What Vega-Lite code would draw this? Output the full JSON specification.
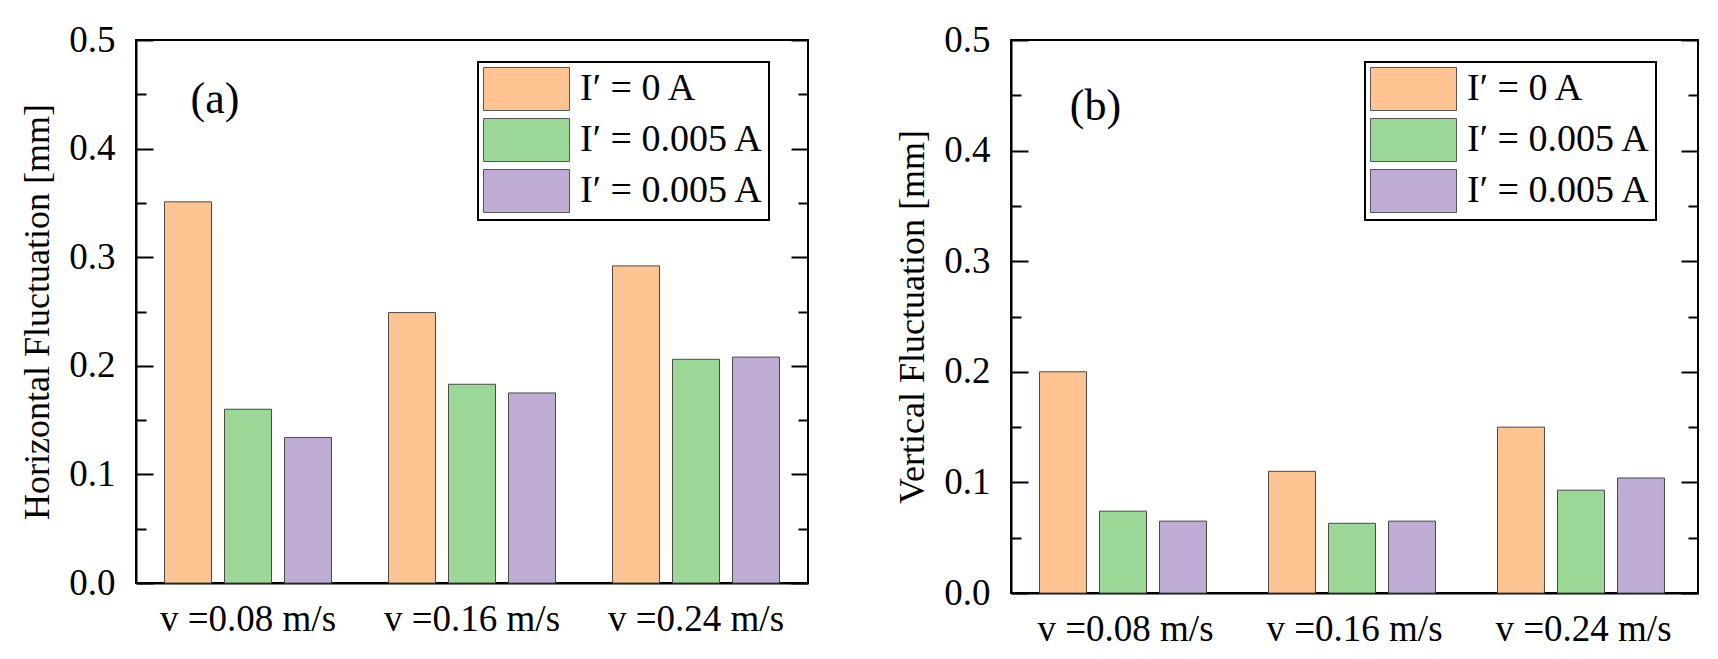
{
  "$schema": "https://vega.github.io/schema/vega-lite/v6.json",
  "background": "white",
  "padding": {"left": 18, "top": 20, "right": 10, "bottom": 10},
  "config": {
    "font": "Liberation Serif",
    "view": {"stroke": "black", "strokeWidth": 2},
    "axis": {
      "labelFont": "Liberation Serif",
      "titleFont": "Liberation Serif",
      "labelFontSize": 37,
      "titleFontSize": 36,
      "titleFontWeight": "normal",
      "labelColor": "black",
      "titleColor": "black",
      "domainColor": "black",
      "domainWidth": 2,
      "tickColor": "black",
      "tickWidth": 2,
      "grid": false
    },
    "legend": {
      "labelFont": "Liberation Serif",
      "labelFontSize": 38,
      "labelColor": "black",
      "labelLimit": 0,
      "labelOffset": 31.5,
      "strokeColor": "black",
      "strokeWidth": 2,
      "fillColor": "white",
      "padding": 5,
      "rowPadding": 3,
      "symbolType": "M-2,-1H2V1H-2Z",
      "symbolSize": 1849,
      "symbolOffset": 21.5,
      "symbolStrokeColor": "#555555",
      "symbolStrokeWidth": 1,
      "symbolOpacity": 1
    }
  },
  "datasets": {
    "a": [
      {"speed": "v =0.08 m/s", "series": "s0", "value": 0.351},
      {"speed": "v =0.08 m/s", "series": "s1", "value": 0.160},
      {"speed": "v =0.08 m/s", "series": "s2", "value": 0.134},
      {"speed": "v =0.16 m/s", "series": "s0", "value": 0.249},
      {"speed": "v =0.16 m/s", "series": "s1", "value": 0.183},
      {"speed": "v =0.16 m/s", "series": "s2", "value": 0.175},
      {"speed": "v =0.24 m/s", "series": "s0", "value": 0.292},
      {"speed": "v =0.24 m/s", "series": "s1", "value": 0.206},
      {"speed": "v =0.24 m/s", "series": "s2", "value": 0.208}
    ],
    "b": [
      {"speed": "v =0.08 m/s", "series": "s0", "value": 0.200},
      {"speed": "v =0.08 m/s", "series": "s1", "value": 0.074},
      {"speed": "v =0.08 m/s", "series": "s2", "value": 0.065},
      {"speed": "v =0.16 m/s", "series": "s0", "value": 0.110},
      {"speed": "v =0.16 m/s", "series": "s1", "value": 0.063},
      {"speed": "v =0.16 m/s", "series": "s2", "value": 0.065},
      {"speed": "v =0.24 m/s", "series": "s0", "value": 0.150},
      {"speed": "v =0.24 m/s", "series": "s1", "value": 0.093},
      {"speed": "v =0.24 m/s", "series": "s2", "value": 0.104}
    ]
  },
  "spacing": 83,
  "resolve": {"scale": {"color": "independent"}},
  "hconcat": [
    {
      "width": 672,
      "height": 543,
      "resolve": {"scale": {"y": "independent"}},
      "layer": [
        {
          "data": {"name": "a"},
          "mark": {"type": "bar", "stroke": "#4a4a4a", "strokeWidth": 1},
          "encoding": {
            "x": {
              "field": "speed", "type": "nominal",
              "scale": {"paddingInner": 0, "paddingOuter": 0},
              "axis": {"title": null, "ticks": false, "labelPadding": 18, "labelAngle": 0}
            },
            "xOffset": {
              "field": "series", "type": "nominal",
              "scale": {"paddingInner": 0.217, "paddingOuter": 0.475}
            },
            "y": {
              "field": "value", "type": "quantitative",
              "scale": {"domain": [0, 0.5], "nice": false},
              "axis": {
                "title": "Horizontal Fluctuation [mm]",
                "values": [0, 0.05, 0.1, 0.15, 0.2, 0.25, 0.3, 0.35, 0.4, 0.45, 0.5],
                "labelExpr": "round(datum.value * 100) % 10 == 0 ? format(datum.value, '.1f') : ''",
                "tickSize": {"condition": {"test": "round(datum.value * 100) % 10 == 0", "value": -17}, "value": -10},
                "labelPadding": 38,
                "titlePadding": 12
              }
            },
            "color": {
              "field": "series", "type": "nominal",
              "scale": {"domain": ["s0", "s1", "s2"], "range": ["#FFC391", "#9BD796", "#BEACD4"]},
              "legend": {
                "orient": "none", "legendX": 342, "legendY": 22, "title": null,
                "labelExpr": "datum.value == 's0' ? 'I′ = 0 A' : 'I′ = 0.005 A'"
              }
            }
          }
        },
        {
          "data": {"values": [{"label": "(a)", "speed": "v =0.08 m/s", "pos": 0.4445}]},
          "mark": {"type": "text", "fontSize": 44, "font": "Liberation Serif", "color": "black", "dx": -33, "baseline": "middle"},
          "encoding": {
            "x": {"field": "speed", "type": "nominal"},
            "y": {
              "field": "pos", "type": "quantitative",
              "scale": {"domain": [0, 0.5], "nice": false},
              "axis": {
                "orient": "right", "title": null, "labels": false, "domain": false,
                "values": [0, 0.05, 0.1, 0.15, 0.2, 0.25, 0.3, 0.35, 0.4, 0.45, 0.5],
                "tickSize": {"condition": {"test": "round(datum.value * 100) % 10 == 0", "value": -17}, "value": -10}
              }
            },
            "text": {"field": "label"}
          }
        }
      ]
    },
    {
      "width": 687,
      "height": 553,
      "resolve": {"scale": {"y": "independent"}},
      "layer": [
        {
          "data": {"name": "b"},
          "mark": {"type": "bar", "stroke": "#4a4a4a", "strokeWidth": 1},
          "encoding": {
            "x": {
              "field": "speed", "type": "nominal",
              "scale": {"paddingInner": 0, "paddingOuter": 0},
              "axis": {"title": null, "ticks": false, "labelPadding": 18, "labelAngle": 0}
            },
            "xOffset": {
              "field": "series", "type": "nominal",
              "scale": {"paddingInner": 0.207, "paddingOuter": 0.496}
            },
            "y": {
              "field": "value", "type": "quantitative",
              "scale": {"domain": [0, 0.5], "nice": false},
              "axis": {
                "title": "Vertical Fluctuation [mm]",
                "values": [0, 0.05, 0.1, 0.15, 0.2, 0.25, 0.3, 0.35, 0.4, 0.45, 0.5],
                "labelExpr": "round(datum.value * 100) % 10 == 0 ? format(datum.value, '.1f') : ''",
                "tickSize": {"condition": {"test": "round(datum.value * 100) % 10 == 0", "value": -17}, "value": -10},
                "labelPadding": 38,
                "titlePadding": 12
              }
            },
            "color": {
              "field": "series", "type": "nominal",
              "scale": {"domain": ["s0", "s1", "s2"], "range": ["#FFC391", "#9BD796", "#BEACD4"]},
              "legend": {
                "orient": "none", "legendX": 354, "legendY": 22, "title": null,
                "labelExpr": "datum.value == 's0' ? 'I′ = 0 A' : 'I′ = 0.005 A'"
              }
            }
          }
        },
        {
          "data": {"values": [{"label": "(b)", "speed": "v =0.08 m/s", "pos": 0.4395}]},
          "mark": {"type": "text", "fontSize": 44, "font": "Liberation Serif", "color": "black", "dx": -30, "baseline": "middle"},
          "encoding": {
            "x": {"field": "speed", "type": "nominal"},
            "y": {
              "field": "pos", "type": "quantitative",
              "scale": {"domain": [0, 0.5], "nice": false},
              "axis": {
                "orient": "right", "title": null, "labels": false, "domain": false,
                "values": [0, 0.05, 0.1, 0.15, 0.2, 0.25, 0.3, 0.35, 0.4, 0.45, 0.5],
                "tickSize": {"condition": {"test": "round(datum.value * 100) % 10 == 0", "value": -17}, "value": -10}
              }
            },
            "text": {"field": "label"}
          }
        }
      ]
    }
  ]
}
